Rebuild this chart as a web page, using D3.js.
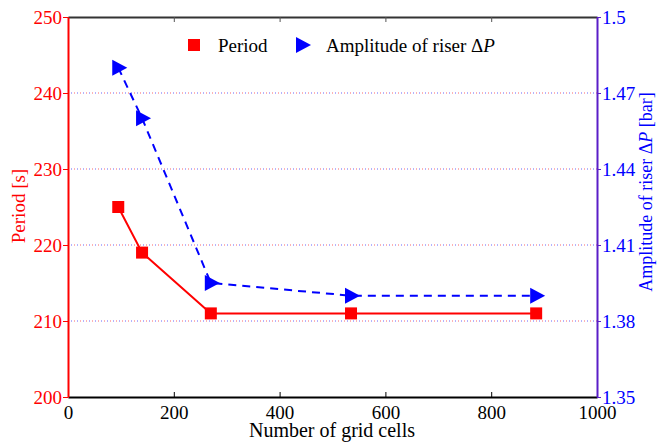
<!DOCTYPE html>
<html>
<head>
<meta charset="utf-8">
<script src="https://cdn.jsdelivr.net/npm/d3@7"></script>
<style>
  body { margin: 0; background: #fff; }
</style>
</head>
<body>
<div id="chart"></div>
<script>
"use strict";

// data
var gridCells = [95, 140, 270, 535, 885];
var period = [225, 219, 211, 211, 211];
var amplitude = [1.48, 1.46, 1.395, 1.39, 1.39];

var xTicks = [0, 200, 400, 600, 800, 1000];
var leftTicks = [200, 210, 220, 230, 240, 250];
var rightTicks = [1.35, 1.38, 1.41, 1.44, 1.47, 1.5];
var rightLabels = ["1.35", "1.38", "1.41", "1.44", "1.47", "1.5"];

var FONT = "'Times New Roman', Times, 'Liberation Serif', 'DejaVu Serif', serif";
var FS = 19;

var W = 657, H = 442;
var margin = { top: 17, right: 60, bottom: 45, left: 68 },
    width = 597 - margin.left,
    height = 397 - margin.top;

var RED = "#ff0000", BLUE = "#0000ff", PURPLE = "#5a1ec8";

var svg = d3.select("#chart")
  .append("svg")
  .attr("width", W)
  .attr("height", H)
  .append("g")
  .attr("transform", "translate(" + margin.left + "," + margin.top + ")");

// scales
var x = d3.scaleLinear().domain([0, 1000]).range([0, width]);
var yL = d3.scaleLinear().domain([200, 250]).range([height, 0]);
var yR = d3.scaleLinear().domain([1.35, 1.5]).range([height, 0]);

// dotted grid, red and blue dots interleaved
var gridVals = [210, 220, 230, 240];
gridVals.forEach(function (v) {
  svg.append("line")
     .attr("x1", 0).attr("x2", width)
     .attr("y1", yL(v)).attr("y2", yL(v))
     .attr("stroke", RED).attr("stroke-width", 1)
     .attr("stroke-dasharray", "1,5")
     .attr("opacity", 0.6);
  svg.append("line")
     .attr("x1", 0).attr("x2", width)
     .attr("y1", yL(v)).attr("y2", yL(v))
     .attr("stroke", BLUE).attr("stroke-width", 1)
     .attr("stroke-dasharray", "1,5")
     .attr("stroke-dashoffset", -3)
     .attr("opacity", 0.6);
});

// x axes (bottom and top), ticks pointing inward
var xAxisB = d3.axisBottom(x).tickValues(xTicks).tickSizeInner(-5).tickSizeOuter(0).tickPadding(9)
  .tickFormat(d3.format("d"));
var gxb = svg.append("g")
   .attr("transform", "translate(0," + height + ")")
   .call(xAxisB);
gxb.select(".domain").attr("stroke", "#000").attr("stroke-width", 2);
gxb.selectAll("text").attr("font-size", FS).attr("fill", "#000");

var xAxisT = d3.axisTop(x).tickValues(xTicks).tickSizeInner(-5).tickSizeOuter(0).tickFormat("");
var gxt = svg.append("g").call(xAxisT);
gxt.select(".domain").attr("stroke", "#333").attr("stroke-width", 2);
gxt.selectAll("line").attr("stroke", "#555");

// left axis
var yAxisL = d3.axisLeft(yL).tickValues(leftTicks).tickSizeInner(5).tickSizeOuter(0).tickPadding(1);
var gl = svg.append("g").call(yAxisL);
gl.select(".domain").attr("stroke", RED).attr("stroke-width", 2);
gl.selectAll("line").attr("stroke", RED);
gl.selectAll("text").attr("font-size", FS).attr("fill", RED);

// right axis
var yAxisR = d3.axisRight(yR).tickValues(rightTicks).tickSizeInner(4).tickSizeOuter(0).tickPadding(1)
  .tickFormat(function (d, i) { return rightLabels[i]; });
var gr = svg.append("g")
   .attr("transform", "translate(" + width + ",0)")
   .call(yAxisR);
gr.select(".domain").attr("stroke", PURPLE).attr("stroke-width", 2);
gr.selectAll("line").attr("stroke", PURPLE);
gr.selectAll("text").attr("font-size", FS).attr("fill", BLUE);

// axis titles
svg.append("text")
   .attr("x", 332 - margin.left).attr("y", 437 - margin.top)
   .attr("text-anchor", "middle")
   .attr("font-size", 20)
   .text("Number of grid cells");

svg.append("text")
   .attr("transform", "translate(" + (25 - margin.left) + "," + (206 - margin.top) + ") rotate(-90)")
   .attr("text-anchor", "middle")
   .attr("font-size", FS)
   .attr("fill", RED)
   .text("Period [s]");

var rt = svg.append("text")
   .attr("transform", "translate(" + (652 - margin.left) + "," + (192 - margin.top) + ") rotate(-90)")
   .attr("text-anchor", "middle")
   .attr("font-size", 18)
   .attr("fill", BLUE);
rt.append("tspan").text("Amplitude of riser \u0394");
rt.append("tspan").attr("font-style", "italic").text("P");
rt.append("tspan").text(" [bar]");

// zip series
var periodData = gridCells.map(function (c, i) { return { x: c, y: period[i] }; });
var ampData = gridCells.map(function (c, i) { return { x: c, y: amplitude[i] }; });

// amplitude line (dashed blue)
svg.append("path")
   .datum(ampData)
   .attr("fill", "none")
   .attr("stroke", BLUE)
   .attr("stroke-width", 2)
   .attr("stroke-dasharray", "8,6")
   .attr("d", d3.line().x(function (d) { return x(d.x); }).y(function (d) { return yR(d.y); }));

// period line (solid red)
svg.append("path")
   .datum(periodData)
   .attr("fill", "none")
   .attr("stroke", RED)
   .attr("stroke-width", 2)
   .attr("d", d3.line().x(function (d) { return x(d.x); }).y(function (d) { return yL(d.y); }));

// markers
var triPath = function (cx, cy) {
  return "M" + (cx - 6) + "," + (cy - 8) + "L" + (cx + 9) + "," + cy + "L" + (cx - 6) + "," + (cy + 8) + "Z";
};

svg.selectAll(".tri")
   .data(ampData)
   .enter()
   .append("path")
   .attr("class", "tri")
   .attr("fill", BLUE)
   .attr("d", function (d) { return triPath(x(d.x), yR(d.y)); });

svg.selectAll(".sq")
   .data(periodData)
   .enter()
   .append("rect")
   .attr("class", "sq")
   .attr("fill", RED)
   .attr("x", function (d) { return x(d.x) - 6; })
   .attr("y", function (d) { return yL(d.y) - 6; })
   .attr("width", 12)
   .attr("height", 12);

// legend
var lg = svg.append("g").attr("transform", "translate(" + (-margin.left) + "," + (-margin.top) + ")");
lg.append("rect").attr("x", 188).attr("y", 39).attr("width", 12).attr("height", 12).attr("fill", RED);
lg.append("text").attr("x", 218).attr("y", 52).attr("font-size", FS).text("Period");
lg.append("path").attr("fill", BLUE).attr("d", triPath(302, 45));
var lt = lg.append("text").attr("x", 326).attr("y", 52).attr("font-size", FS);
lt.append("tspan").text("Amplitude of riser \u0394");
lt.append("tspan").attr("font-style", "italic").text("P");

// serif everywhere, like the original
d3.selectAll("text").style("font-family", FONT);
</script>
</body>
</html>
